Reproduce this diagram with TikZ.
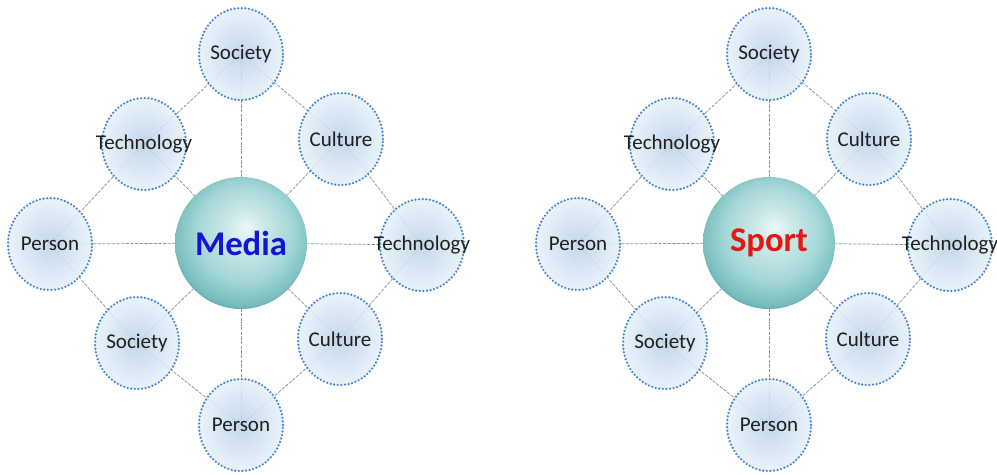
\documentclass[tikz,border=0pt]{standalone}
\usepackage{fontspec}
\setmainfont{Carlito}
\usetikzlibrary{shapes.geometric}
\definecolor{dotblue}{RGB}{75,135,205}
\definecolor{bubin}{RGB}{186,210,232}
\definecolor{bubout}{RGB}{230,241,251}
\definecolor{linegray}{RGB}{145,145,152}
\definecolor{txtgray}{RGB}{30,30,30}
\definecolor{medblue}{RGB}{20,20,215}
\definecolor{sportred}{RGB}{228,22,22}
\definecolor{sphA}{RGB}{236,248,248}
\definecolor{sphB}{RGB}{165,215,215}
\definecolor{sphC}{RGB}{122,190,190}
\definecolor{sphD}{RGB}{78,148,150}
\pgfdeclareradialshading{bubshade}{\pgfpoint{0bp}{0bp}}{color(0bp)=(bubin); color(25bp)=(bubout); color(50bp)=(bubout)}
\pgfdeclareradialshading{sphshade}{\pgfpoint{2bp}{6bp}}{color(0bp)=(sphA); color(7bp)=(sphA!55!sphB); color(18bp)=(sphB); color(26bp)=(sphC); color(31bp)=(sphD); color(50bp)=(sphD)}
\pgfdeclarelayer{background}
\pgfsetlayers{background,main}
\newcommand\lbl[1]{\makebox[0pt][c]{#1}}
\tikzset{
  bubble/.style={ellipse, inner sep=0pt, minimum width=63pt, minimum height=69pt,
    shading=bubshade, fill opacity=0.86, text opacity=1, text=txtgray,
    draw=dotblue, draw opacity=1, line width=1.9pt, dash pattern=on 0pt off 2.7pt, line cap=round,
    font=\fontsize{15.75}{18}\selectfont},
  hub/.style={circle, inner sep=0pt, minimum size=99pt, shading=sphshade,
    font=\fontsize{26}{30}\selectfont\bfseries},
  link/.style={draw=linegray, line width=0.55pt, dash pattern=on 2.5pt off 1pt}
}
\newcommand\hubdiagram[3]{%
  \node[bubble] (#1t) at (241,54) {\lbl{Society}};
  \node[bubble] (#1ul) at (144,144) {\lbl{Technology}};
  \node[bubble] (#1ur) at (341,139) {\lbl{Culture}};
  \node[bubble] (#1l) at (50,244) {\lbl{Person}};
  \node[bubble] (#1r) at (422,245) {\lbl{Technology}};
  \node[bubble] (#1bl) at (137,343) {\lbl{Society}};
  \node[bubble] (#1br) at (340,339) {\lbl{Culture}};
  \node[bubble] (#1b) at (241,425) {\lbl{Person}};
  \node[hub, text=#3] (#1c) at (241,243) {#2};
  \begin{pgfonlayer}{background}
    \draw[link] (#1t.center) -- (#1ul.center) -- (#1l.center) -- (#1bl.center) -- (#1b.center)
      -- (#1br.center) -- (#1r.center) -- (#1ur.center) -- (#1t.center);
    \foreach \n in {t,ul,ur,l,r,bl,br,b} \draw[link] (#1c.center) -- (#1\n.center);
  \end{pgfonlayer}
}
\begin{document}
\begin{tikzpicture}[x=0.75pt,y=-0.75pt]
  \begin{pgfonlayer}{background}
    \fill[white] (0,0) rectangle (997,475);
  \end{pgfonlayer}
  \useasboundingbox (0,0) rectangle (997,475);
  \hubdiagram{m}{Media}{medblue}
  \begin{scope}[xshift=396pt]
    \hubdiagram{s}{Sport}{sportred}
  \end{scope}
\end{tikzpicture}
\end{document}
